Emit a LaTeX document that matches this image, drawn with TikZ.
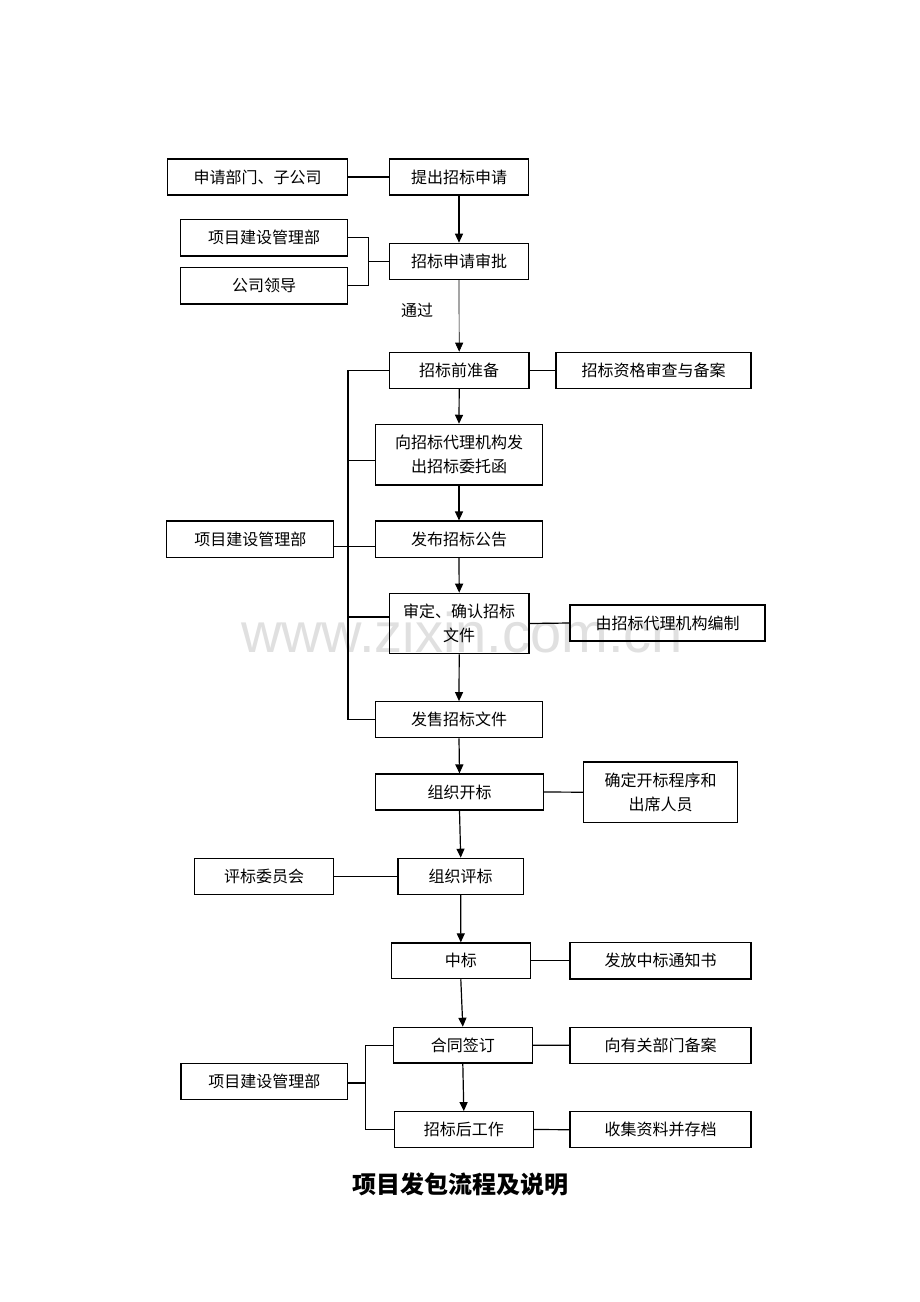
\documentclass[tikz,border=0pt]{standalone}
\usepackage{fontspec}
\newfontfamily\cjk{Noto Sans CJK SC}
\newfontfamily\wmfont{Liberation Sans}
\usetikzlibrary{arrows.meta}
\tikzset{
  bx/.style={draw, line width=1.2pt, inner sep=0pt, align=center,
    font=\cjk\fontsize{16}{24}\selectfont},
  ln/.style={line width=1.2pt},
  arr/.style={line width=1.2pt, -{Triangle[length=9pt,width=8pt]}},
  thinarr/.style={line width=0.7pt, -{Triangle[length=9pt,width=8pt]}},
}
\begin{document}
\begin{tikzpicture}[x=1pt,y=-1pt]
\fill[white] (0,0) rectangle (920,1302);
\useasboundingbox (0,0) rectangle (920,1302);
% watermark
\node[anchor=base, text=black!12, font=\wmfont\fontsize{56}{60}\selectfont, inner sep=0pt] (wm) at (462,652) {www.zixin.com.cn};
% nodes
\node[bx, minimum width=180.5, minimum height=36] (req) at (257.5,177) {申请部门、子公司};
\node[bx, minimum width=139.5, minimum height=36] (apply) at (459,177) {提出招标申请};
\node[bx, minimum width=167, minimum height=36.7] (pm1) at (264.2,237.7) {项目建设管理部};
\node[bx, minimum width=167, minimum height=36.7] (lead) at (264.2,285.7) {公司领导};
\node[bx, minimum width=139.5, minimum height=36] (approve) at (459,261.3) {招标申请审批};
\node[font=\cjk\fontsize{16}{24}\selectfont, inner sep=0pt] (pass) at (417,310.5) {通过};
\node[bx, minimum width=139.7, minimum height=36] (prep) at (459.2,370.3) {招标前准备};
\node[bx, minimum width=195, minimum height=36] (qual) at (653.5,370.3) {招标资格审查与备案};
\node[bx, minimum width=166.7, minimum height=60.7] (agent) at (459,454.7) {向招标代理机构发\\出招标委托函};
\node[bx, minimum width=167, minimum height=36.3] (pm2) at (250.3,539.2) {项目建设管理部};
\node[bx, minimum width=166.7, minimum height=36.3] (notice) at (459,539.2) {发布招标公告};
\node[bx, minimum width=139.7, minimum height=60.4] (review) at (459.2,623.5) {审定、确认招标\\文件};
\node[bx, minimum width=195, minimum height=36] (agentfile) at (667.5,623) {由招标代理机构编制};
\node[bx, minimum width=166.7, minimum height=36] (sell) at (459,719.7) {发售招标文件};
\node[bx, minimum width=167.6, minimum height=36] (open) at (459.5,792) {组织开标};
\node[bx, minimum width=153.6, minimum height=60.3] (openinfo) at (660.5,792.2) {确定开标程序和\\出席人员};
\node[bx, minimum width=139.4, minimum height=36] (committee) at (264,876.3) {评标委员会};
\node[bx, minimum width=125.3, minimum height=36] (evaluate) at (460.7,876.3) {组织评标};
\node[bx, minimum width=139, minimum height=35.7] (win) at (460.8,960.8) {中标};
\node[bx, minimum width=181, minimum height=36.3] (notify) at (660.5,960.8) {发放中标通知书};
\node[bx, minimum width=139, minimum height=35.7] (contract) at (462.8,1045.2) {合同签订};
\node[bx, minimum width=181, minimum height=36] (record) at (660.5,1045.3) {向有关部门备案};
\node[bx, minimum width=166.7, minimum height=36] (pm3) at (264.3,1081.3) {项目建设管理部};
\node[bx, minimum width=139, minimum height=35.6] (after) at (463.8,1129.5) {招标后工作};
\node[bx, minimum width=181, minimum height=36] (archive) at (660.5,1129.7) {收集资料并存档};
\node[font=\cjk\bfseries\fontsize{24}{28}\selectfont, inner sep=0pt] (title) at (460.5,1184) {项目发包流程及说明};
% bus coordinates
\coordinate (brkA) at (368.3,0);
\coordinate (bus) at (348,0);
\coordinate (brkB) at (365.7,0);
% main arrows
\draw[arr] (apply.south) -- (approve.north);
\draw[thinarr] (approve.south) -- (prep.north);
\draw[arr] (prep.south) -- (agent.north);
\draw[arr] (agent.south) -- (notice.north);
\draw[arr] (notice.south) -- (review.north);
\draw[arr] (review.south) -- (sell.north);
\draw[arr] (sell.south) -- (open.north);
\draw[arr] (open.south) -- (evaluate.north);
\draw[arr] (evaluate.south) -- (win.north);
\draw[arr] (win.south) -- (contract.north);
\draw[arr] (contract.south) -- (after.north);
% side lines
\draw[ln] (req.east) -- (apply.west);
\draw[ln] (prep.east) -- (qual.west);
\draw[ln] (review.east) -- (agentfile.west);
\draw[ln] (open.east) -- (openinfo.west);
\draw[ln] (committee.east) -- (evaluate.west);
\draw[ln] (win.east) -- (notify.west);
\draw[ln] (contract.east) -- (record.west);
\draw[ln] (after.east) -- (archive.west);
% top bracket
\draw[ln] (pm1.east) -- (pm1.east -| brkA) -- (lead.east -| brkA) -- (lead.east);
\draw[ln] (approve.west) -- (approve.west -| brkA);
% left bus
\draw[ln] (prep.west) -- (prep.west -| bus) -- (sell.west -| bus) -- (sell.west);
\draw[ln] ([yshift=-6pt]agent.west) -- ([yshift=-6pt]agent.west -| bus);
\draw[ln] ([yshift=-7pt]pm2.east) -- ([yshift=-7pt]notice.west);
\draw[ln] ([yshift=6.5pt]review.west) -- ([yshift=6.5pt]review.west -| bus);
% bottom bracket
\draw[ln] (contract.west) -- (contract.west -| brkB) -- (after.west -| brkB) -- (after.west);
\draw[ln] ([yshift=-1.7pt]pm3.east) -- ([yshift=-1.7pt]pm3.east -| brkB);
\end{tikzpicture}
\end{document}
